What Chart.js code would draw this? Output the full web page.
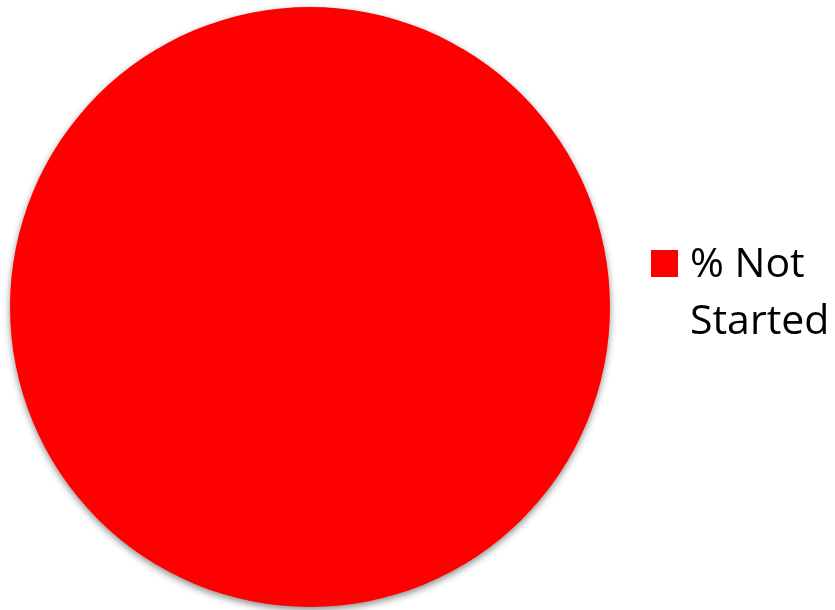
<!DOCTYPE html>
<html>
<head>
<meta charset="utf-8">
<script src="https://cdn.jsdelivr.net/npm/chart.js@4/dist/chart.umd.min.js"></script>
<style>
  html, body { margin: 0; padding: 0; background: #fff; }
  #wrap { width: 835px; height: 610px; position: relative; }
</style>
</head>
<body>
<div id="wrap"><canvas id="pieChart"></canvas></div>
<script>
const labels = ['% Not Started'];
const legendLines = [['% Not', 'Started']];
const values = [100];
const colors = ['#ff0000'];

const shadowPlugin = {
    id: 'pieShadow',
    beforeDatasetDraw(chart) {
        const ctx = chart.ctx;
        ctx.save();
        ctx.shadowColor = 'rgba(0, 0, 0, 0.45)';
        ctx.shadowBlur = 7;
        ctx.shadowOffsetY = 3;
    },
    afterDatasetDraw(chart) {
        chart.ctx.restore();
    }
};

// legend on the right, text wrapped like the original
const sideLegend = {
    id: 'sideLegend',
    afterDraw(chart) {
        const ctx = chart.ctx;
        ctx.save();
        ctx.font = '41px "Open Sans", sans-serif';
        ctx.textBaseline = 'alphabetic';
        legendLines.forEach((lines, i) => {
            ctx.fillStyle = colors[i];
            ctx.fillRect(651, 250, 27, 27);
            ctx.fillStyle = '#000';
            lines.forEach((line, j) => {
                ctx.fillText(line, 690, 277 + j * 57);
            });
        });
        ctx.restore();
    }
};

const ctx = document.getElementById('pieChart').getContext('2d');
new Chart(ctx, {
    type: 'pie',
    data: {
        labels: labels,
        datasets: [{
            data: values,
            backgroundColor: colors,
            borderWidth: 0
        }]
    },
    options: {
        responsive: true,
        maintainAspectRatio: false,
        animation: false,
        layout: {
            padding: { left: 10, right: 225, top: 7, bottom: 3 }
        },
        plugins: {
            legend: { display: false },
            tooltip: { enabled: false }
        }
    },
    plugins: [shadowPlugin, sideLegend]
});
</script>
</body>
</html>
